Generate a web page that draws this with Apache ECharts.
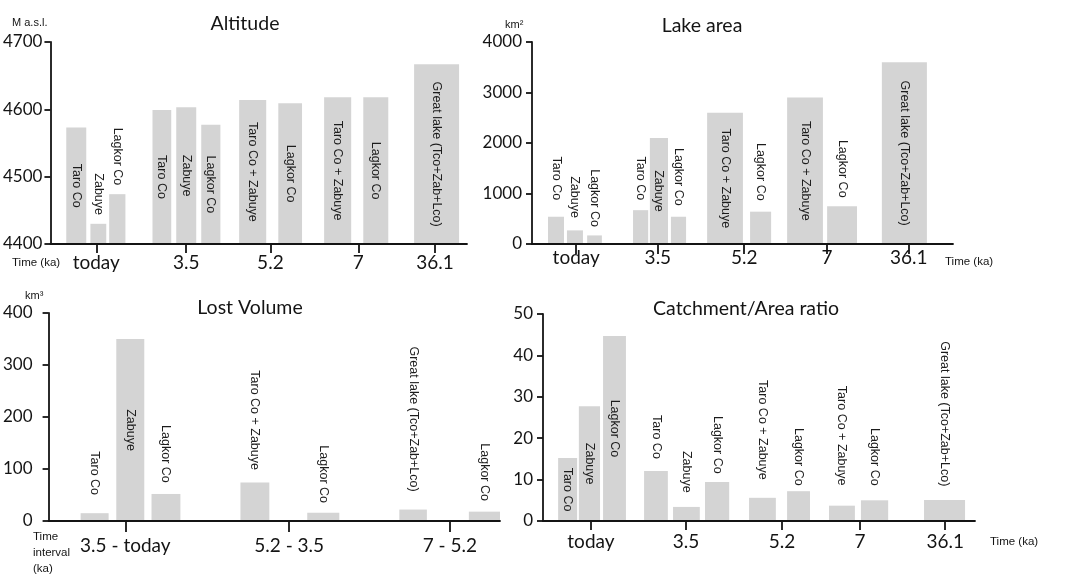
<!DOCTYPE html>
<html>
<head>
<meta charset="utf-8">
<script src="https://cdn.jsdelivr.net/npm/echarts@6/dist/echarts.min.js"></script>
<style>
  html, body { margin: 0; padding: 0; background: #fff; }
  #chart { width: 1067px; height: 574px; }
</style>
</head>
<body>
<div id="chart"></div>
<script>
// ---------- data ----------
const timeTicks = ['today', '3.5', '5.2', '7', '36.1'];
const intervalTicks = ['3.5 - today', '5.2 - 3.5', '7 - 5.2'];

// lakes per time slice (today, 3.5, 5.2, 7, 36.1 ka)
const lakeNames = ['Taro Co', 'Zabuye', 'Lagkor Co',
                   'Taro Co', 'Zabuye', 'Lagkor Co',
                   'Taro Co + Zabuye', 'Lagkor Co',
                   'Taro Co + Zabuye', 'Lagkor Co',
                   'Great lake (Tco+Zab+Lco)'];
const altitudeValues = [4573, 4430, 4474, 4599, 4603, 4577, 4614, 4609, 4618, 4618, 4667];
const areaValues = [540, 270, 170, 670, 2100, 540, 2600, 640, 2900, 750, 3600];
const ratioValues = [15.2, 27.7, 44.7, 12.1, 3.4, 9.4, 5.6, 7.2, 3.7, 5.0, 5.1];

// lakes per time interval (3.5-today, 5.2-3.5, 7-5.2)
const lostNames = ['Taro Co', 'Zabuye', 'Lagkor Co',
                   'Taro Co + Zabuye', 'Lagkor Co',
                   'Great lake (Tco+Zab+Lco)', 'Lagkor Co'];
const lostValues = [15, 350, 52, 74, 16, 22, 18];

// ---------- layout (x slots on a 0-100 axis, label anchors in value units) ----------
const altSpans = [[3.8,8.6],[9.6,13.4],[14.1,18.0],[24.5,29.0],[30.2,35.0],[36.2,40.8],[45.3,51.8],[54.7,60.4],[65.7,72.2],[75.1,81.1],[87.3,98.1]];
const altTickAt = [11.0, 32.6, 52.8, 73.9, 92.3];
const altLabelAt = ['mid', 4474, 4530, 'mid', 'mid', 'mid', 'mid', 'mid', 'mid', 'mid', 'mid'];

const areaSpans = [[3.8,7.6],[8.3,12.1],[13.1,16.6],[24.0,27.6],[28.0,32.3],[33.0,36.6],[41.6,50.1],[51.8,56.8],[60.6,69.1],[70.1,77.2],[83.1,93.8]];
const areaTickAt = [10.5, 29.9, 50.4, 70.1, 89.5];
const areaLabelAt = [1300, 930, 910, 1300, 'mid', 1330, 'mid', 1430, 'mid', 1490, 'mid'];

const lostSpans = [[7.1,13.3],[15.0,21.2],[22.8,29.2],[42.5,48.9],[57.3,64.4],[77.7,83.8],[93.1,100]];
const lostTickAt = [17.0, 53.3, 88.9];
const lostLabelAt = [92, 'mid', 129, 194, 90, 196, 94];

const ratioSpans = [[3.5,7.9],[8.3,13.2],[13.9,19.2],[23.4,28.9],[30.1,36.3],[37.5,43.1],[47.7,53.9],[56.5,61.8],[66.2,72.2],[73.6,79.9],[88.2,97.7]];
const ratioTickAt = [11.1, 33.1, 55.3, 73.4, 93.1];
const ratioLabelAt = ['mid', 'mid', 'mid', 20.3, 11.9, 18.4, 22, 15.5, 20.6, 15.5, 25.9];

// ---------- styling ----------
const INK = '#141414';
const BAR = '#d4d4d4';
const AXIS_W = 1.8;
const TICK_FONT = 'Lato';
const SMALL_FONT = 'Liberation Sans';

function xAxisFor(gridIndex, tickAt, tickNames, tickLen, margin) {
  return {
    type: 'value', gridIndex, min: 0, max: 100, z: 5,
    splitLine: { show: false },
    axisLine: { show: true, onZero: false, lineStyle: { color: INK, width: AXIS_W } },
    axisTick: { show: true, customValues: tickAt, length: tickLen, lineStyle: { color: INK, width: AXIS_W } },
    axisLabel: {
      show: true, customValues: tickAt, margin,
      fontFamily: TICK_FONT, fontSize: 19, color: INK,
      formatter: (v) => {
        let best = 0;
        tickAt.forEach((t, i) => { if (Math.abs(t - v) < Math.abs(tickAt[best] - v)) best = i; });
        return tickNames[best];
      }
    }
  };
}

function yAxisFor(gridIndex, min, max, interval, margin) {
  return {
    type: 'value', gridIndex, min, max, interval, z: 5,
    splitLine: { show: false },
    axisLine: { show: true, onZero: false, lineStyle: { color: INK, width: AXIS_W } },
    axisTick: { show: true, length: 6, lineStyle: { color: INK, width: AXIS_W } },
    axisLabel: { margin, fontFamily: TICK_FONT, fontSize: 17, color: INK, formatter: (v) => String(v) }
  };
}

function barSeries(idx, names, values, spans, labelAt, base) {
  return {
    type: 'custom', xAxisIndex: idx, yAxisIndex: idx, z: 2,
    data: values.map((v, i) => [spans[i][0], spans[i][1], v]),
    encode: { x: [0, 1], y: 2 },
    renderItem(params, api) {
      const i = params.dataIndex;
      const topLeft = api.coord([api.value(0), api.value(2)]);
      const botRight = api.coord([api.value(1), base]);
      const anchor = labelAt[i];
      const cy = anchor === 'mid' ? (topLeft[1] + botRight[1]) / 2 : api.coord([api.value(0), anchor])[1];
      return {
        type: 'group',
        children: [
          { type: 'rect',
            shape: { x: topLeft[0], y: topLeft[1], width: botRight[0] - topLeft[0], height: botRight[1] - topLeft[1] },
            style: { fill: BAR } },
          { type: 'text', x: (topLeft[0] + botRight[0]) / 2, y: cy, rotation: -Math.PI / 2,
            style: { text: names[i], fill: '#1c1c1c', fontFamily: SMALL_FONT, fontSize: 12.5,
                     align: 'center', verticalAlign: 'middle' } }
        ]
      };
    }
  };
}

function txt(x, y, text, size, family, align) {
  return { type: 'text', x, y, z: 10,
    style: { text, fill: INK, fontFamily: family, fontSize: size,
             align: align || 'left', verticalAlign: 'middle', lineHeight: 16 } };
}

const chart = echarts.init(document.getElementById('chart'), null, { renderer: 'canvas' });

chart.setOption({
  backgroundColor: '#ffffff',
  animation: false,
  grid: [
    { left: 50,  top: 42,  width: 417, height: 202 },
    { left: 532, top: 42,  width: 421, height: 202 },
    { left: 48,  top: 313, width: 452, height: 208 },
    { left: 543, top: 314, width: 432, height: 207 }
  ],
  xAxis: [
    xAxisFor(0, altTickAt, timeTicks, 9, 9),
    xAxisFor(1, areaTickAt, timeTicks, 10, 4),
    xAxisFor(2, lostTickAt, intervalTicks, 11, 15),
    xAxisFor(3, ratioTickAt, timeTicks, 9, 11)
  ],
  yAxis: [
    yAxisFor(0, 4400, 4700, 100, 8),
    yAxisFor(1, 0, 4000, 1000, 10),
    yAxisFor(2, 0, 400, 100, 16),
    yAxisFor(3, 0, 50, 10, 10)
  ],
  series: [
    barSeries(0, lakeNames, altitudeValues, altSpans, altLabelAt, 4400),
    barSeries(1, lakeNames, areaValues, areaSpans, areaLabelAt, 0),
    barSeries(2, lostNames, lostValues, lostSpans, lostLabelAt, 0),
    barSeries(3, lakeNames, ratioValues, ratioSpans, ratioLabelAt, 0)
  ],
  graphic: [
    // panel titles
    txt(245, 24, 'Altitude', 19.5, TICK_FONT, 'center'),
    txt(702, 26, 'Lake area', 19.5, TICK_FONT, 'center'),
    txt(250, 308, 'Lost Volume', 19.5, TICK_FONT, 'center'),
    txt(746, 309, 'Catchment/Area ratio', 19.5, TICK_FONT, 'center'),
    // units
    txt(12, 23, 'M a.s.l.', 11, SMALL_FONT),
    txt(505, 25, 'km\u00b2', 11, SMALL_FONT),
    txt(25, 296, 'km\u00b3', 11, SMALL_FONT),
    // axis names
    txt(12, 263, 'Time (ka)', 11.5, SMALL_FONT),
    txt(945, 262, 'Time (ka)', 11.5, SMALL_FONT),
    txt(990, 542, 'Time (ka)', 11.5, SMALL_FONT),
    txt(33, 553, 'Time\ninterval\n(ka)', 11.5, SMALL_FONT)
  ]
});
</script>
</body>
</html>
